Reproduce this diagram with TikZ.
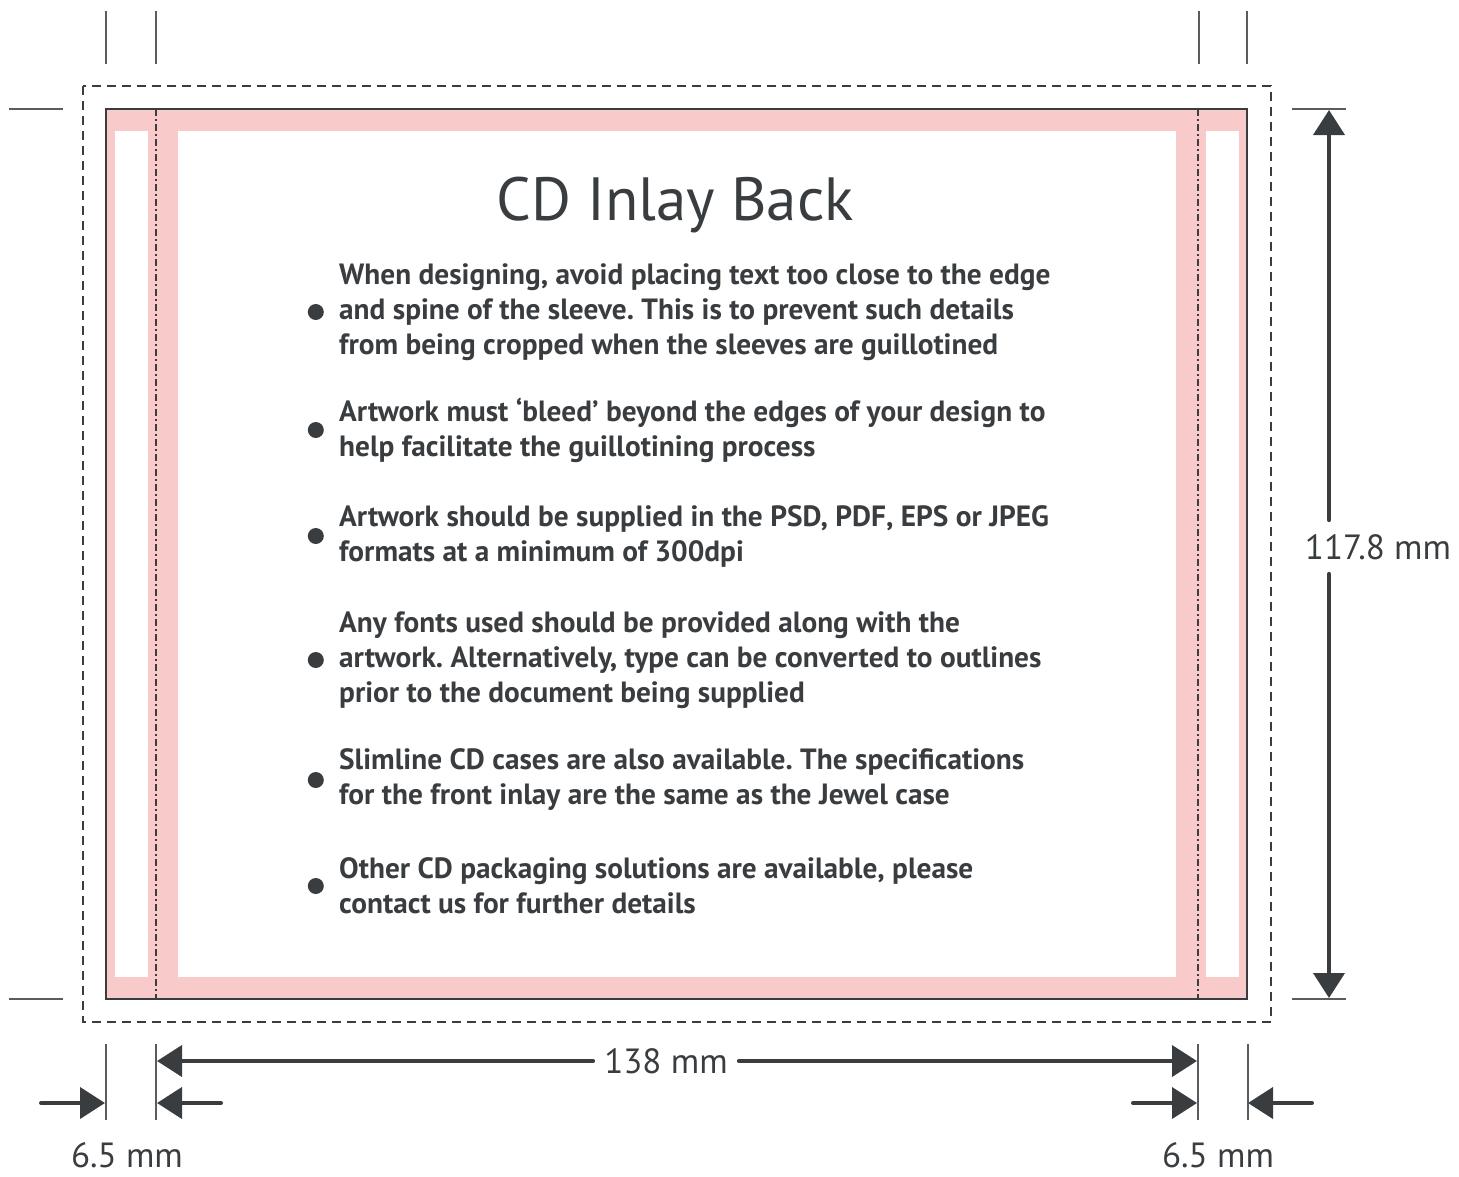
\documentclass[tikz,border=0pt]{standalone}
\usepackage{fontspec}
\setmainfont{PT Sans}
\usetikzlibrary{arrows.meta,positioning}
\frenchspacing

\definecolor{inkgrey}{HTML}{3A3D40}
\definecolor{tickgrey}{HTML}{5A5C5E}
\definecolor{bleedpink}{HTML}{F9CACA}

\tikzset{
	trimline/.style={draw=inkgrey, line width=2.6pt},
	bleedline/.style={draw=inkgrey, line width=1.2pt, dash pattern=on 9pt off 6pt},
	spineline/.style={draw=inkgrey, line width=1.2pt, dash pattern=on 7pt off 3pt on 2pt off 3pt},
	tickline/.style={draw=tickgrey, line width=1.3pt},
	dimarrow/.style={draw=inkgrey, line width=4pt, line cap=round, -{Triangle[length=25pt,width=31pt]}},
	dimlabel/.style={text=inkgrey, font=\fontsize{35}{40}\selectfont, inner sep=0pt},
	tiptext/.style={text=inkgrey, font=\fontsize{29.3}{35}\selectfont\bfseries, align=left, anchor=west, inner sep=0pt},
	tipbullet/.style={circle, fill=inkgrey, minimum size=16pt, inner sep=0pt}
}

\begin{document}
\begin{tikzpicture}[x=1pt, y=-1pt]
	\useasboundingbox (0,0) rectangle (1459,1176);

	% bleed area and inlay panels
	\fill[bleedpink] (106,109) rectangle (1247,999);
	\fill[white] (115,131) rectangle (148,977);
	\fill[white] (178,131) rectangle (1176,977);
	\fill[white] (1206,131) rectangle (1239,977);
	\draw[bleedline] (83,86) rectangle (1271,1022);
	\draw[trimline] (106,109) rectangle (1247,999);
	\draw[spineline] (156,109) -- (156,999);
	\draw[spineline] (1198,109) -- (1198,999);

	% crop ticks
	\foreach \x in {106,156,1199,1247}
		\draw[tickline] (\x,11) -- (\x,64);
	\foreach \x in {106,156,1198,1248}
		\draw[tickline] (\x,1044) -- (\x,1120);
	\foreach \y in {109,999} {
		\draw[tickline] (9,\y) -- (63,\y);
		\draw[tickline] (1292,\y) -- (1346,\y);
	}

	% title and notes
	\node[text=inkgrey, font=\fontsize{61}{66}\selectfont, anchor=base] (title) at (675,220) {CD Inlay Back};

	\node[tiptext] (tip1) at (339,312) {When designing, avoid placing text too close to the edge\\and spine of the sleeve. This is to prevent such details\\from being cropped when the sleeves are guillotined};
	\node[tiptext] (tip2) at (339,430) {Artwork must `bleed' beyond the edges of your design to\\help facilitate the guillotining process};
	\node[tiptext] (tip3) at (339,536) {Artwork should be supplied in the PSD, PDF, EPS or JPEG\\formats at a minimum of 300dpi};
	\node[tiptext] (tip4) at (339,660) {Any fonts used should be provided along with the\\artwork. Alternatively, type can be converted to outlines\\prior to the document being supplied};
	\node[tiptext] (tip5) at (339,780) {Slimline CD cases are also available. The specifications\\for the front inlay are the same as the Jewel case};
	\node[tiptext] (tip6) at (339,886) {Other CD packaging solutions are available, please\\contact us for further details};
	\foreach \i in {1,...,6}
		\node[tipbullet, left=15pt of tip\i.west] (dot\i) {};

	% width
	\coordinate (wleft) at (157,1061);
	\coordinate (wright) at (1197,1061);
	\node[dimlabel, inner xsep=11pt] (wlabel) at (666,1061) {138 mm};
	\draw[dimarrow] (wlabel) -- (wleft);
	\draw[dimarrow] (wlabel) -- (wright);

	% height
	\coordinate (htop) at (1329,110);
	\coordinate (hbot) at (1329,998);
	\node[dimlabel, inner ysep=14pt] (hlabel) at (1378,547) {117.8 mm};
	\draw[dimarrow] (hlabel.north -| htop) -- (htop);
	\draw[dimarrow] (hlabel.south -| hbot) -- (hbot);

	% spine widths
	\coordinate (sl1) at (105,1103);
	\coordinate (sl2) at (157,1103);
	\coordinate (sr1) at (1197,1103);
	\coordinate (sr2) at (1248,1103);
	\draw[dimarrow] (41,1103) -- (sl1);
	\draw[dimarrow] (221,1103) -- (sl2);
	\draw[dimarrow] (1133,1103) -- (sr1);
	\draw[dimarrow] (1312,1103) -- (sr2);
	\node[dimlabel] (sleft) at (127,1155) {6.5 mm};
	\node[dimlabel] (sright) at (1218,1155) {6.5 mm};
\end{tikzpicture}
\end{document}
